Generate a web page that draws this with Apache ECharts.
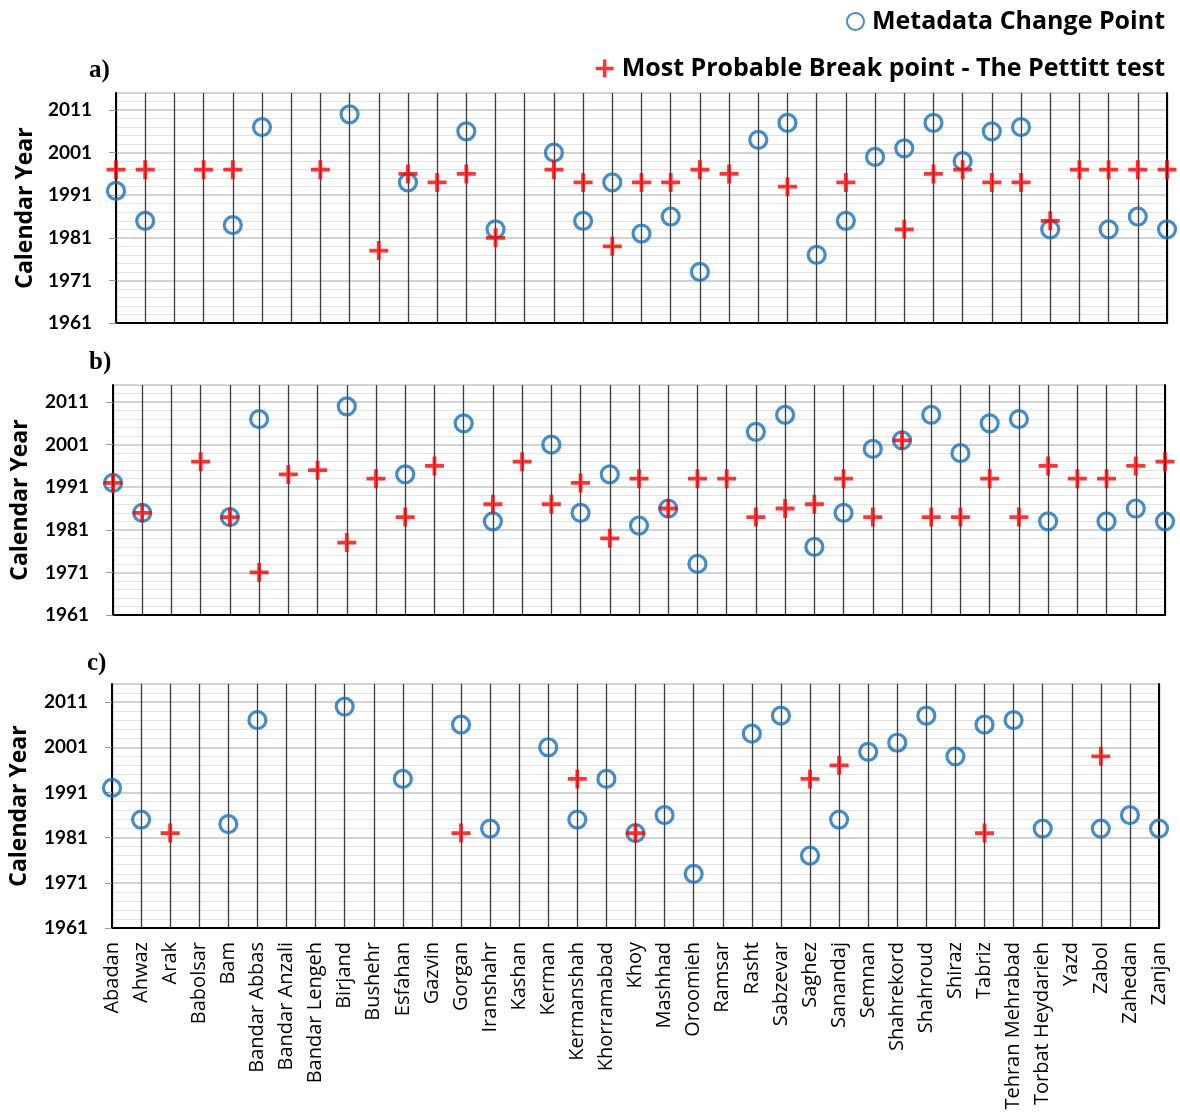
<!DOCTYPE html>
<html>
<head>
<meta charset="utf-8">
<script src="https://cdn.jsdelivr.net/npm/echarts@6/dist/echarts.min.js"></script>
<style>
html,body{margin:0;padding:0;background:#fff;}
#chart{width:1180px;height:1118px;}
</style>
</head>
<body>
<div id="chart"></div>
<script>
const categories = ['Abadan','Ahwaz','Arak','Babolsar','Bam','Bandar Abbas','Bandar Anzali','Bandar Lengeh','Birjand','Bushehr','Esfahan','Gazvin','Gorgan','Iranshahr','Kashan','Kerman','Kermanshah','Khorramabad','Khoy','Mashhad','Oroomieh','Ramsar','Rasht','Sabzevar','Saghez','Sanandaj','Semnan','Shahrekord','Shahroud','Shiraz','Tabriz','Tehran Mehrabad','Torbat Heydarieh','Yazd','Zabol','Zahedan','Zanjan'];

const metadataYears = [1992,1985,null,null,1984,2007,null,null,2010,null,1994,null,2006,1983,null,2001,1985,1994,1982,1986,1973,null,2004,2008,1977,1985,2000,2002,2008,1999,2006,2007,1983,null,1983,1986,1983];

const pettittA = [1997,1997,null,1997,1997,null,null,1997,null,1978,1996,1994,1996,1981,null,1997,1994,1979,1994,1994,1997,1996,null,1993,null,1994,null,1983,1996,1997,1994,1994,1985,1997,1997,1997,1997];

const pettittB = [1992,1985,null,1997,1984,1971,1994,1995,1978,1993,1984,1996,null,1987,1997,1987,1992,1979,1993,1986,1993,1993,1984,1986,1987,1993,1984,2002,1984,1984,1993,1984,1996,1993,1993,1996,1997];

const pettittC = [null,null,1982,null,null,null,null,null,null,null,null,null,1982,null,null,null,1994,null,1982,null,null,null,null,null,1994,1997,null,null,null,null,1982,null,null,null,1999,null,null];

const yearTicks = [1961,1971,1981,1991,2001,2011];
const panelLabels = ['a)','b)','c)'];
const legendNames = ['Metadata Change Point','Most Probable Break point - The Pettitt test'];

const BASE_YEAR = yearTicks[0];
const TOP_YEAR = 2015;
const toAxis = arr => arr.map(v => v == null ? '-' : v - BASE_YEAR);

const FONT = 'Open Sans';
const PLUS = 'path://M4,0H6V4H10V6H6V10H4V6H0V4H4Z';
const BLUE = '#1570BD';
const RED = '#FF0000';

const grids = [
  {left:116, width:1051, top:93, height:230},
  {left:113, width:1052, top:385, height:230},
  {left:108, width:1051, top:684, height:244}
];
const titleTops = [53, 345, 646];
const titleLefts = [84, 84, 82];

const frameLine = {show:true, lineStyle:{color:'#000', width:2}};

const xAxes = grids.map((g,i)=>({
  type:'category', gridIndex:i, data:categories, boundaryGap:false,
  axisLine:frameLine,
  axisTick:{show:false},
  splitLine:{show:true, interval:0, lineStyle:{color:'#3a3a3a', width:1.3}},
  axisLabel: i===2 ? {show:true, interval:0, rotate:90, margin:14, fontFamily:FONT, fontSize:20, color:'#000'} : {show:false}
})).concat(grids.map((g,i)=>({
  type:'category', gridIndex:i, position:'top', data:categories, boundaryGap:false,
  axisLine:frameLine, axisTick:{show:false}, axisLabel:{show:false}, splitLine:{show:false}
})));

const yAxes = grids.map((g,i)=>({
  type:'value', gridIndex:i, min:0, max:TOP_YEAR-BASE_YEAR, interval:10,
  name:'Calendar Year', nameLocation:'middle', nameGap: i===0?79:81,
  nameTextStyle:{fontFamily:FONT, fontWeight:'bold', fontSize:23, color:'#000'},
  axisLine:frameLine,
  axisTick:{show:true, length:7, lineStyle:{color:'#999'}},
  axisLabel:{show:true, margin:24, fontFamily:'Lato', fontWeight:'bold', fontSize:19, color:'#000',
    formatter: v => String(v + BASE_YEAR), showMaxLabel:false},
  splitLine:{show:true, lineStyle:{color:'#c4c4c4', width:1.6}},
  minorTick:{show:false, splitNumber:5},
  minorSplitLine:{show:true, lineStyle:{color:'#e2e2e2', width:1.2}}
})).concat(grids.map((g,i)=>({
  type:'value', gridIndex:i, position:'right', min:0, max:TOP_YEAR-BASE_YEAR, interval:10,
  axisLine:frameLine, axisTick:{show:false}, axisLabel:{show:false}, splitLine:{show:false}
})));

const option = {
  backgroundColor:'#fff',
  animation:false,
  title: panelLabels.map((t,i)=>({
    text:t, left:titleLefts[i], top:titleTops[i],
    textStyle:{fontFamily:'Liberation Serif', fontWeight:'bold', fontSize:25, color:'#000'}
  })),
  legend:[
    {data:[legendNames[0]], right:10, top:4, icon:'circle', itemWidth:17, itemHeight:17,
     textStyle:{fontFamily:FONT, fontWeight:'bold', fontSize:25, color:'#000', padding:[0,0,0,3]}},
    {data:[legendNames[1]], right:10, top:51, icon:PLUS, itemWidth:18, itemHeight:18,
     textStyle:{fontFamily:FONT, fontWeight:'bold', fontSize:25, color:'#000', padding:[0,0,0,3]}}
  ],
  grid: grids.map(g=>Object.assign({show:false}, g)),
  xAxis: xAxes,
  yAxis: yAxes,
  series: []
};

const pettitt = [pettittA, pettittB, pettittC];
for (let i=0;i<3;i++){
  option.series.push({
    name:legendNames[0], type:'scatter', xAxisIndex:i, yAxisIndex:i,
    data: toAxis(metadataYears), symbol:'circle', symbolSize:17, z:3,
    itemStyle:{color:'rgba(255,255,255,0)', borderColor:BLUE, borderWidth:3.2}
  });
}
for (let i=0;i<3;i++){
  option.series.push({
    name:legendNames[1], type:'scatter', xAxisIndex:i, yAxisIndex:i,
    data: toAxis(pettitt[i]), symbol:PLUS, symbolSize:19, z:4,
    itemStyle:{color:RED}
  });
}

const chart = echarts.init(document.getElementById('chart'), null, {renderer:'canvas'});
chart.setOption(option);
</script>
</body>
</html>
